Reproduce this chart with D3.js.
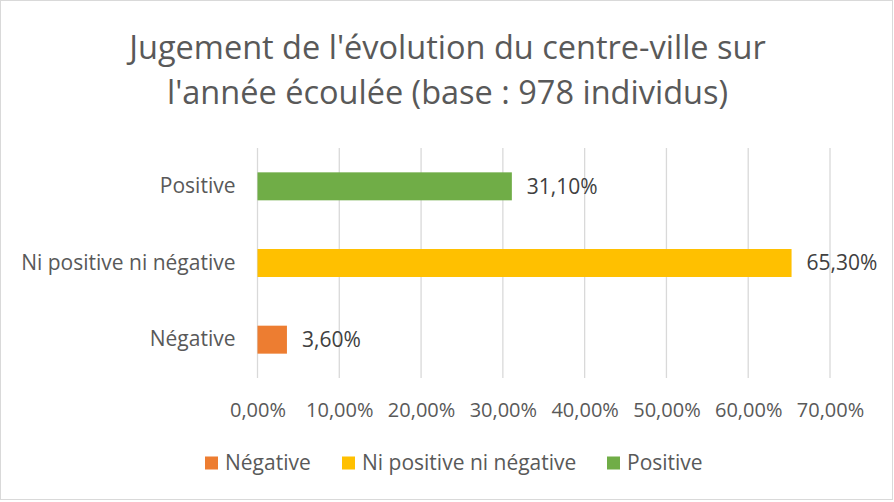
<!DOCTYPE html>
<html>
<head>
<meta charset="utf-8">
<script src="https://cdn.jsdelivr.net/npm/d3@7"></script>
<style>
  body { margin: 0; background: #fff; }
  svg { display: block; font-family: "Open Sans", "Noto Sans", sans-serif; }
</style>
</head>
<body>
<div id="chart"></div>
<script>
const titleLines = ["Jugement de l'évolution du centre-ville sur", "l'année écoulée (base : 978 individus)"];
const categories = ["Positive", "Ni positive ni négative", "Négative"];
const values = [0.311, 0.653, 0.036];
const colors = ["#70ad47", "#ffc000", "#ed7d31"];
const legendOrder = ["Négative", "Ni positive ni négative", "Positive"];
const ticks = [0, 0.1, 0.2, 0.3, 0.4, 0.5, 0.6, 0.7];

const width = 894, height = 502;
const margin = {top: 148, left: 257.5, right: 64, bottom: 124};

const fr = d3.formatLocale({decimal: ",", thousands: " ", grouping: [3], currency: ["", " €"]});
const pct = fr.format(".2%");

const svg = d3.select("#chart").append("svg")
    .attr("width", width)
    .attr("height", height);

// chart border
svg.append("rect")
    .attr("x", 0.5).attr("y", 0.5)
    .attr("width", width - 2).attr("height", height - 3)
    .attr("fill", "#fff")
    .attr("stroke", "#d9d9d9");

// title
svg.append("g").selectAll("text")
    .data(titleLines)
    .join("text")
    .attr("x", 447.5)
    .attr("y", (d, i) => 59 + i * 45)
    .attr("text-anchor", "middle")
    .attr("font-size", 32.5)
    .attr("fill", "#595959")
    .text(d => d);

const x = d3.scaleLinear()
    .domain([0, 0.7])
    .range([margin.left, width - margin.right]);

const y = d3.scaleBand()
    .domain(categories)
    .range([margin.top, height - margin.bottom])
    .paddingInner(0.635)
    .paddingOuter(0.3175);

// gridlines
svg.append("g").selectAll("line")
    .data(ticks)
    .join("line")
    .attr("x1", d => x(d)).attr("x2", d => x(d))
    .attr("y1", margin.top).attr("y2", height - margin.bottom)
    .attr("stroke", "#d9d9d9")
    .attr("stroke-width", 1.3);

// x tick labels
const xAxis = d3.axisBottom(x).tickValues(ticks).tickFormat(pct).tickSize(0).tickPadding(0);
const gx = svg.append("g")
    .attr("transform", `translate(0,${height - margin.bottom})`)
    .call(xAxis);
gx.select(".domain").remove();
gx.selectAll("text")
    .attr("y", 39)
    .attr("dy", 0)
    .attr("font-size", 20)
    .attr("font-family", "'Open Sans', 'Noto Sans', sans-serif")
    .attr("fill", "#595959");

// category labels
const yAxis = d3.axisLeft(y).tickSize(0).tickPadding(0);
const gy = svg.append("g")
    .attr("transform", `translate(${margin.left},0)`)
    .call(yAxis);
gy.select(".domain").remove();
gy.selectAll("text")
    .attr("x", -22)
    .attr("font-size", 21)
    .attr("font-family", "'Open Sans', 'Noto Sans', sans-serif")
    .attr("fill", "#595959");

// bars
svg.append("g").selectAll("rect")
    .data(categories)
    .join("rect")
    .attr("x", x(0))
    .attr("y", d => y(d))
    .attr("width", (d, i) => x(values[i]) - x(0))
    .attr("height", y.bandwidth())
    .attr("fill", (d, i) => colors[i]);

// value labels
svg.append("g").selectAll("text")
    .data(categories)
    .join("text")
    .attr("x", (d, i) => x(values[i]) + 15)
    .attr("y", d => y(d) + y.bandwidth() / 2)
    .attr("dy", "0.35em")
    .attr("font-size", 21)
    .attr("fill", "#404040")
    .text((d, i) => pct(values[i]));

// legend
const legendX = [205, 342, 607];
const legend = svg.append("g").selectAll("g")
    .data(legendOrder)
    .join("g")
    .attr("transform", (d, i) => `translate(${legendX[i]},463)`);
legend.append("rect")
    .attr("x", 0).attr("y", -6.5)
    .attr("width", 13).attr("height", 13)
    .attr("fill", d => colors[categories.indexOf(d)]);
legend.append("text")
    .attr("x", 20)
    .attr("dy", "0.35em")
    .attr("font-size", 21)
    .attr("fill", "#595959")
    .text(d => d);
</script>
</body>
</html>
